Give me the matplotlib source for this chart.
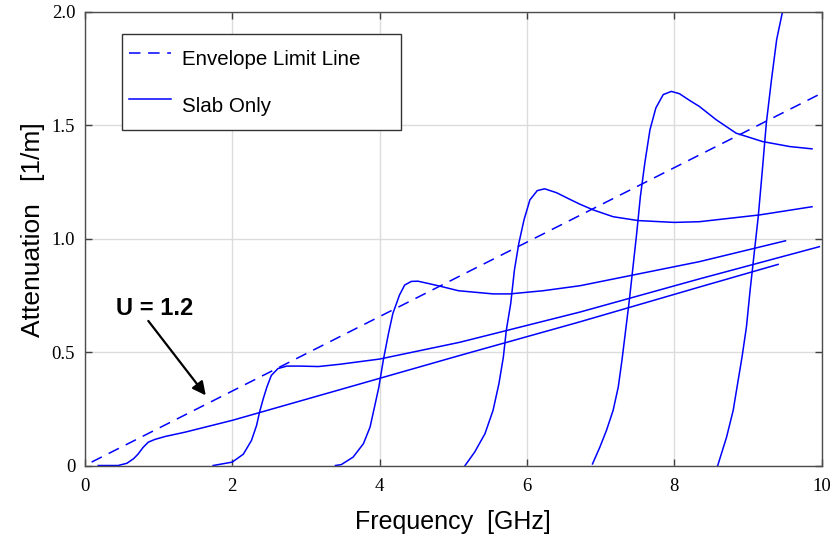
import matplotlib
matplotlib.use("Agg")
import matplotlib.pyplot as plt

# Envelope limit line (straight, dashed)
env_x = [0.09, 10.0]
env_y = [0.015, 1.64]

# Slab-only mode curves
mode1_x = [0.18, 0.45, 0.57, 0.66, 0.72, 0.79, 0.86, 0.95, 1.09, 1.36, 2.0, 3.46, 4.0, 5.09, 6.72, 8.34, 9.41]
mode1_y = [0.0, 0.0, 0.01, 0.03, 0.05, 0.08, 0.103, 0.115, 0.128, 0.147, 0.199, 0.334, 0.384, 0.485, 0.633, 0.786, 0.886]

mode2_x = [1.74, 2.0, 2.15, 2.26, 2.33, 2.37, 2.42, 2.47, 2.53, 2.62, 2.74, 2.92, 3.17, 3.46, 4.0, 5.09, 6.72, 8.34, 9.97]
mode2_y = [0.0, 0.015, 0.05, 0.11, 0.177, 0.235, 0.294, 0.346, 0.397, 0.427, 0.438, 0.438, 0.436, 0.446, 0.469, 0.543, 0.676, 0.822, 0.964]

mode3_x = [3.40, 3.48, 3.64, 3.78, 3.87, 3.93, 3.99, 4.05, 4.12, 4.18, 4.27, 4.34, 4.43, 4.52, 4.66, 4.82, 5.07, 5.54, 5.77, 6.22, 6.72, 8.34, 9.51]
mode3_y = [0.0, 0.004, 0.037, 0.096, 0.169, 0.257, 0.346, 0.464, 0.581, 0.67, 0.751, 0.795, 0.811, 0.812, 0.802, 0.79, 0.77, 0.756, 0.756, 0.77, 0.792, 0.898, 0.99]

mode4_x = [5.16, 5.29, 5.43, 5.54, 5.62, 5.68, 5.72, 5.78, 5.83, 5.89, 5.96, 6.04, 6.14, 6.24, 6.4, 6.58, 6.72, 6.9, 7.17, 7.51, 8.0, 8.34, 9.16, 9.87]
mode4_y = [0.0, 0.059, 0.14, 0.243, 0.361, 0.478, 0.596, 0.714, 0.861, 0.979, 1.082, 1.17, 1.211, 1.219, 1.202, 1.173, 1.151, 1.126, 1.096, 1.079, 1.071, 1.074, 1.104, 1.14]

mode5_x = [6.89, 6.99, 7.08, 7.17, 7.24, 7.29, 7.34, 7.39, 7.43, 7.49, 7.54, 7.6, 7.67, 7.75, 7.85, 7.96, 8.07, 8.21, 8.34, 8.57, 8.84, 9.2, 9.57, 9.87]
mode5_y = [0.007, 0.081, 0.155, 0.243, 0.346, 0.464, 0.596, 0.728, 0.846, 1.023, 1.185, 1.332, 1.479, 1.575, 1.634, 1.648, 1.638, 1.608, 1.582, 1.523, 1.464, 1.427, 1.405, 1.395]

mode6_x = [8.59, 8.71, 8.8, 8.86, 8.92, 8.98, 9.03, 9.08, 9.14, 9.2, 9.25, 9.32, 9.39, 9.47]
mode6_y = [0.0, 0.125, 0.243, 0.361, 0.478, 0.611, 0.773, 0.92, 1.096, 1.317, 1.509, 1.7, 1.876, 2.0]

modes = [(mode1_x, mode1_y), (mode2_x, mode2_y), (mode3_x, mode3_y),
         (mode4_x, mode4_y), (mode5_x, mode5_y), (mode6_x, mode6_y)]

x_ticks = [0, 2, 4, 6, 8, 10]
x_ticklabels = ["0", "2", "4", "6", "8", "10"]
y_ticks = [0, 0.5, 1.0, 1.5, 2.0]
y_ticklabels = ["0", "0.5", "1.0", "1.5", "2.0"]

blue = "#0000ff"
sans = ["Liberation Sans", "DejaVu Sans"]
serif = ["Liberation Serif", "DejaVu Serif"]

fig = plt.figure(figsize=(8.33, 5.43), dpi=100)
ax = fig.add_axes([0.102, 0.1427, 0.8843, 0.8361])

ax.plot(env_x, env_y, color=blue, lw=1.1, dashes=(7.5, 5.0), label="Envelope Limit Line")
for i, (mx, my) in enumerate(modes):
    ax.plot(mx, my, color=blue, lw=1.1, label="Slab Only" if i == 0 else None)

ax.set_xlim(0, 10)
ax.set_ylim(0, 2)
ax.set_xticks(x_ticks)
ax.set_xticklabels(x_ticklabels, family=serif, fontsize=13.5)
ax.set_yticks(y_ticks)
ax.set_yticklabels(y_ticklabels, family=serif, fontsize=13.5)
ax.tick_params(direction="in", length=5, width=1, color="0.25",
               top=True, right=True)
ax.tick_params(axis="x", pad=9)
ax.tick_params(axis="y", pad=7)
ax.grid(True, color="#dcdcdc", lw=1.0)
ax.set_axisbelow(True)
for sp in ax.spines.values():
    sp.set_color("0.3")
    sp.set_linewidth(1.0)

ax.set_xlabel("Frequency  [GHz]", family=sans, fontsize=18, labelpad=11)
ax.set_ylabel("Attenuation   [1/m]", family=sans, fontsize=19)
ax.yaxis.set_label_coords(-0.054, 0.52)

# Annotation with arrow
ax.text(0.95, 0.69, "U = 1.2", family=sans, fontsize=17, fontweight="bold",
        ha="center", va="center")
ax.annotate("", xy=(1.64, 0.309), xytext=(0.86, 0.637),
            arrowprops=dict(arrowstyle="-|>", color="black", lw=1.6,
                            mutation_scale=20, shrinkA=0, shrinkB=0))

leg = ax.legend(loc="upper left", bbox_to_anchor=(0.0506, 0.9504, 0.378, 0.0),
                mode="expand", borderaxespad=0, fancybox=False, framealpha=1,
                edgecolor="0.2", prop={"family": sans, "size": 14.8},
                handlelength=2.0, handletextpad=0.55, labelspacing=0.5,
                handleheight=2.3, borderpad=0.35)
leg.get_frame().set_linewidth(1.0)

fig.savefig("out.png", dpi=100)
